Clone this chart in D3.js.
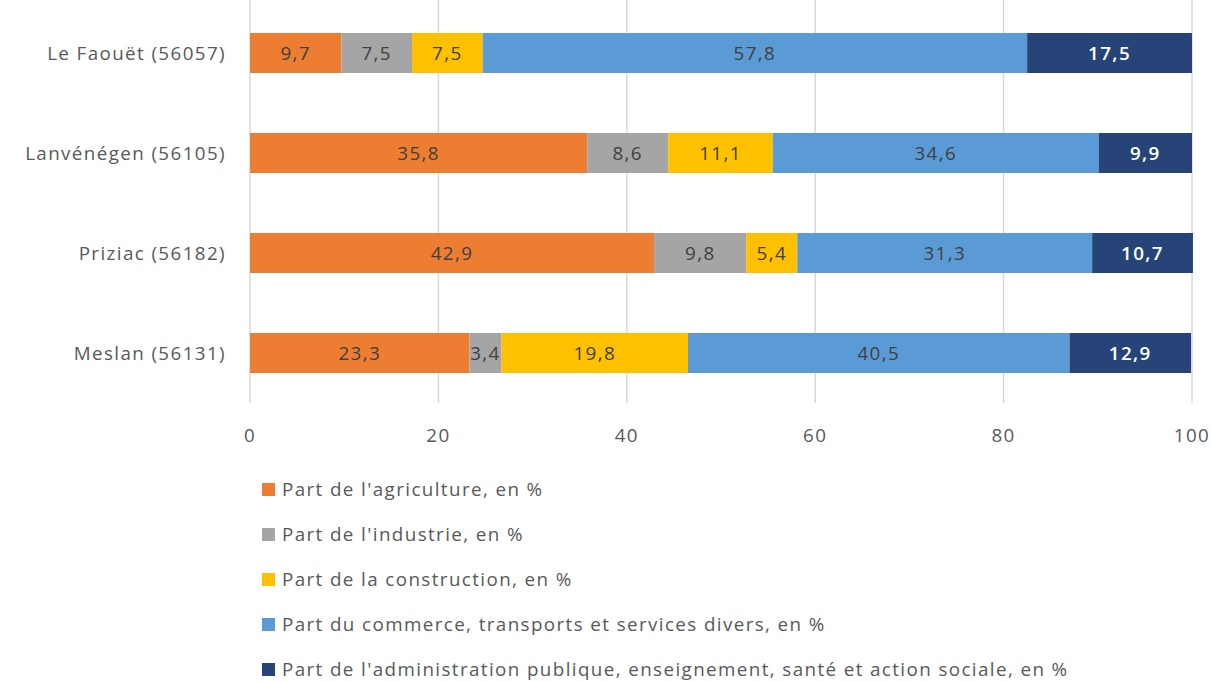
<!DOCTYPE html>
<html><head><meta charset="utf-8">
<script src="https://cdn.jsdelivr.net/npm/d3@7"></script>
<style>body{margin:0;background:#fff}svg{display:block}</style>
</head><body>
<svg id="c" width="1211" height="682"></svg>
<script>
const categories = ["Le Faouët (56057)", "Lanvénégen (56105)", "Priziac (56182)", "Meslan (56131)"];
const seriesNames = [
  "Part de l'agriculture, en %",
  "Part de l'industrie, en %",
  "Part de la construction, en %",
  "Part du commerce, transports et services divers, en %",
  "Part de l'administration publique, enseignement, santé et action sociale, en %"
];
const agriculture = [9.7, 35.8, 42.9, 23.3];
const industrie = [7.5, 8.6, 9.8, 3.4];
const construction = [7.5, 11.1, 5.4, 19.8];
const commerce = [57.8, 34.6, 31.3, 40.5];
const administration = [17.5, 9.9, 10.7, 12.9];
const xTicks = [0, 20, 40, 60, 80, 100];
const colors = ["#ED7D31", "#A5A5A5", "#FFC000", "#5B9BD5", "#264478"];
const labelColors = ["#404040", "#404040", "#404040", "#404040", "#ffffff"];

const seriesValues = [agriculture, industrie, construction, commerce, administration];
const rows = categories.map((c, i) => {
  const o = {cat: c};
  seriesNames.forEach((s, j) => o[s] = seriesValues[j][i]);
  return o;
});
const stacked = d3.stack().keys(seriesNames)(rows);

const svg = d3.select("#c");
const font = "'Open Sans', sans-serif";
const fs = 18.8;
const ls = "1.4px";
const x = d3.scaleLinear().domain([0, 100]).range([250, 1192]);
const y = d3.scaleBand().domain(categories).range([3, 403]).paddingInner(0.6).paddingOuter(0.3);

// gridlines
svg.append("g").selectAll("line").data(xTicks).join("line")
  .attr("x1", d => x(d)).attr("x2", d => x(d))
  .attr("y1", 0).attr("y2", 403)
  .attr("stroke", "#d9d9d9").attr("stroke-width", 1.5);

// tick labels
svg.append("g").selectAll("text").data(xTicks).join("text")
  .attr("x", d => x(d)).attr("y", 442)
  .attr("text-anchor", "middle")
  .attr("font-family", font).attr("font-size", fs).attr("letter-spacing", ls).attr("fill", "#595959")
  .text(d => d);

// category labels
svg.append("g").selectAll("text").data(categories).join("text")
  .attr("x", 226).attr("y", d => y(d) + y.bandwidth() / 2 + 6.5)
  .attr("text-anchor", "end")
  .attr("font-family", font).attr("font-size", fs).attr("letter-spacing", ls).attr("fill", "#595959")
  .text(d => d);

// bars
const g = svg.append("g");
stacked.forEach((layer, j) => {
  g.append("g").selectAll("rect").data(layer).join("rect")
    .attr("x", d => x(d[0])).attr("width", d => x(d[1]) - x(d[0]))
    .attr("y", d => y(d.data.cat)).attr("height", y.bandwidth())
    .attr("fill", colors[j]);
  g.append("g").selectAll("text").data(layer).join("text")
    .attr("x", d => (x(d[0]) + x(d[1])) / 2)
    .attr("y", d => y(d.data.cat) + y.bandwidth() / 2 + 6.5)
    .attr("text-anchor", "middle")
    .attr("font-family", font).attr("font-size", fs).attr("letter-spacing", ls)
    .attr("font-weight", j === 4 ? 600 : "normal")
    .attr("fill", labelColors[j])
    .text(d => String(d.data[seriesNames[j]]).replace(".", ","));
});

// legend
const leg = svg.append("g").selectAll("g").data(seriesNames).join("g")
  .attr("transform", (d, i) => `translate(262, ${489 + i * 45})`);
leg.append("rect").attr("x", 0).attr("y", -6).attr("width", 13).attr("height", 13)
  .attr("fill", (d, i) => colors[i]);
leg.append("text").attr("x", 20).attr("y", 6.5)
  .attr("font-family", font).attr("font-size", fs).attr("letter-spacing", ls).attr("fill", "#595959")
  .text(d => d);
</script>
</body></html>
